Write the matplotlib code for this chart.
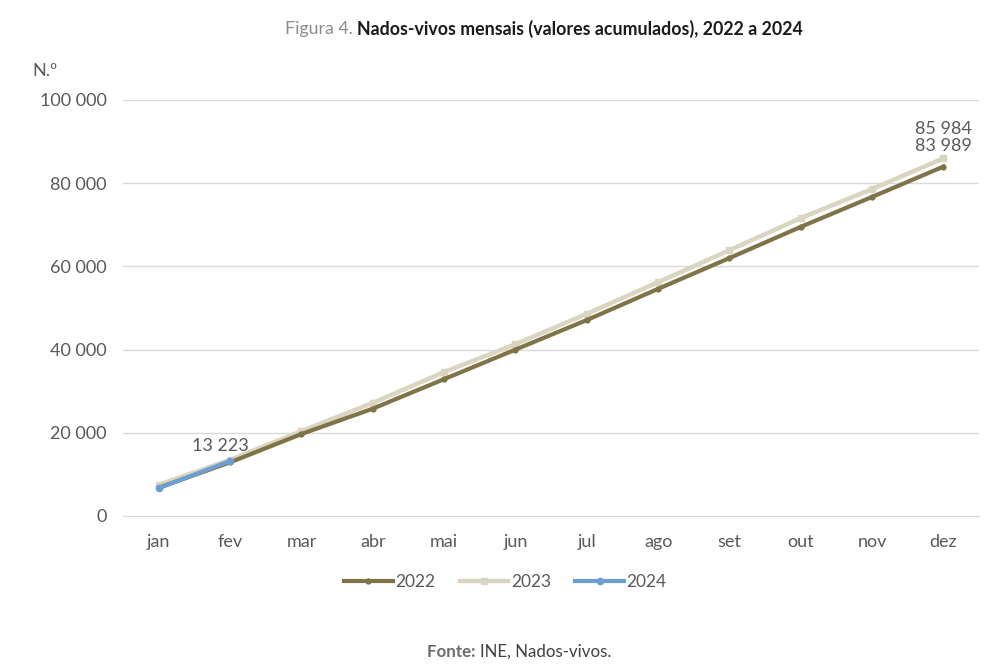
import matplotlib
matplotlib.use("Agg")
import matplotlib.pyplot as plt
from matplotlib.ticker import FuncFormatter

months = ["jan", "fev", "mar", "abr", "mai", "jun", "jul", "ago", "set", "out", "nov", "dez"]
v2022 = [6800, 12900, 19700, 25800, 32900, 40000, 47100, 54600, 62000, 69500, 76700, 83989]
v2023 = [7500, 13500, 20400, 27200, 34600, 41300, 48600, 56200, 63900, 71600, 78600, 85984]
v2024 = [6700, 13223]
yticks = [0, 20000, 40000, 60000, 80000, 100000]

plt.rcParams['font.family'] = ['Lato', 'DejaVu Sans']

c2022 = "#7f7447"
c2023 = "#d9d5c0"
c2024 = "#6c9fd2"
tick_col = "#595959"
FS = 13

fig = plt.figure(figsize=(9.85, 6.64), dpi=100)
ax = fig.add_axes([0.125, 0.2229, 0.869, 0.6265])
x = list(range(len(months)))

ax.plot(x, v2023, color=c2023, lw=3.2, marker="s", ms=4.5, zorder=3, label="2023")
ax.plot(x, v2022, color=c2022, lw=3.0, marker="o", ms=3.5, zorder=4, label="2022")
ax.plot(x[:len(v2024)], v2024, color=c2024, lw=3.0, marker="o", ms=4.5, zorder=5, label="2024")

ax.set_xlim(-0.5, len(months) - 0.5)
ax.set_ylim(0, 100000)
ax.set_yticks(yticks)
ax.yaxis.set_major_formatter(FuncFormatter(lambda v, p: f"{int(v):,}".replace(",", " ")))
ax.set_xticks(x)
ax.set_xticklabels(months)
ax.tick_params(axis="both", length=0, labelsize=FS, colors=tick_col, pad=12)
ax.tick_params(axis="x", pad=13)
ax.grid(axis="y", color="#d9d9d9", lw=1.0)
ax.set_axisbelow(True)
for s in ["top", "right", "left"]:
    ax.spines[s].set_visible(False)
ax.spines["bottom"].set_color("#d9d9d9")

fmt = lambda v: f"{v:,}".replace(",", " ")
ax.annotate(fmt(v2024[-1]), (1, v2024[-1]), xytext=(-7, 5), textcoords="offset points",
            ha="center", va="bottom", fontsize=FS, color=tick_col)
ax.annotate(fmt(v2023[-1]) + "\n" + fmt(v2022[-1]), (11, v2023[-1]), xytext=(0, 3),
            textcoords="offset points", ha="center", va="bottom", fontsize=FS,
            color=tick_col, linespacing=1.05)

fig.text(0.033, 0.885, "N.º", fontsize=FS, color=tick_col)

handles, labels = ax.get_legend_handles_labels()
order = [1, 0, 2]
fig.legend([handles[i] for i in order], [labels[i] for i in order], loc="center",
           bbox_to_anchor=(0.513, 0.123), ncol=3, frameon=False, fontsize=12.5,
           labelcolor=tick_col, handlelength=2.8, columnspacing=1.4, handletextpad=0.15)

fig.canvas.draw()
r = fig.canvas.get_renderer()

def two_part(y, a_txt, a_kw, b_txt, b_kw, cx):
    ta = fig.text(0, y, a_txt, ha="left", va="center", **a_kw)
    tb = fig.text(0, y, b_txt, ha="left", va="center", **b_kw)
    wa = ta.get_window_extent(r).width / fig.bbox.width
    wb = tb.get_window_extent(r).width / fig.bbox.width
    x0 = cx - (wa + wb) / 2
    ta.set_x(x0)
    tb.set_x(x0 + wa)

two_part(0.957, "Figura 4. ", dict(fontsize=12.8, color="#8c8c8c"),
         "Nados-vivos mensais (valores acumulados), 2022 a 2024",
         dict(fontsize=12.8, fontweight="bold", color="#1a1a1a"), 0.552)
two_part(0.018, "Fonte: ", dict(fontsize=12.2, color="#6b6b6b", fontweight="bold"),
         "INE, Nados-vivos.", dict(fontsize=12.2, color="#404040"), 0.527)

fig.savefig("out.png", dpi=100, facecolor="white")
